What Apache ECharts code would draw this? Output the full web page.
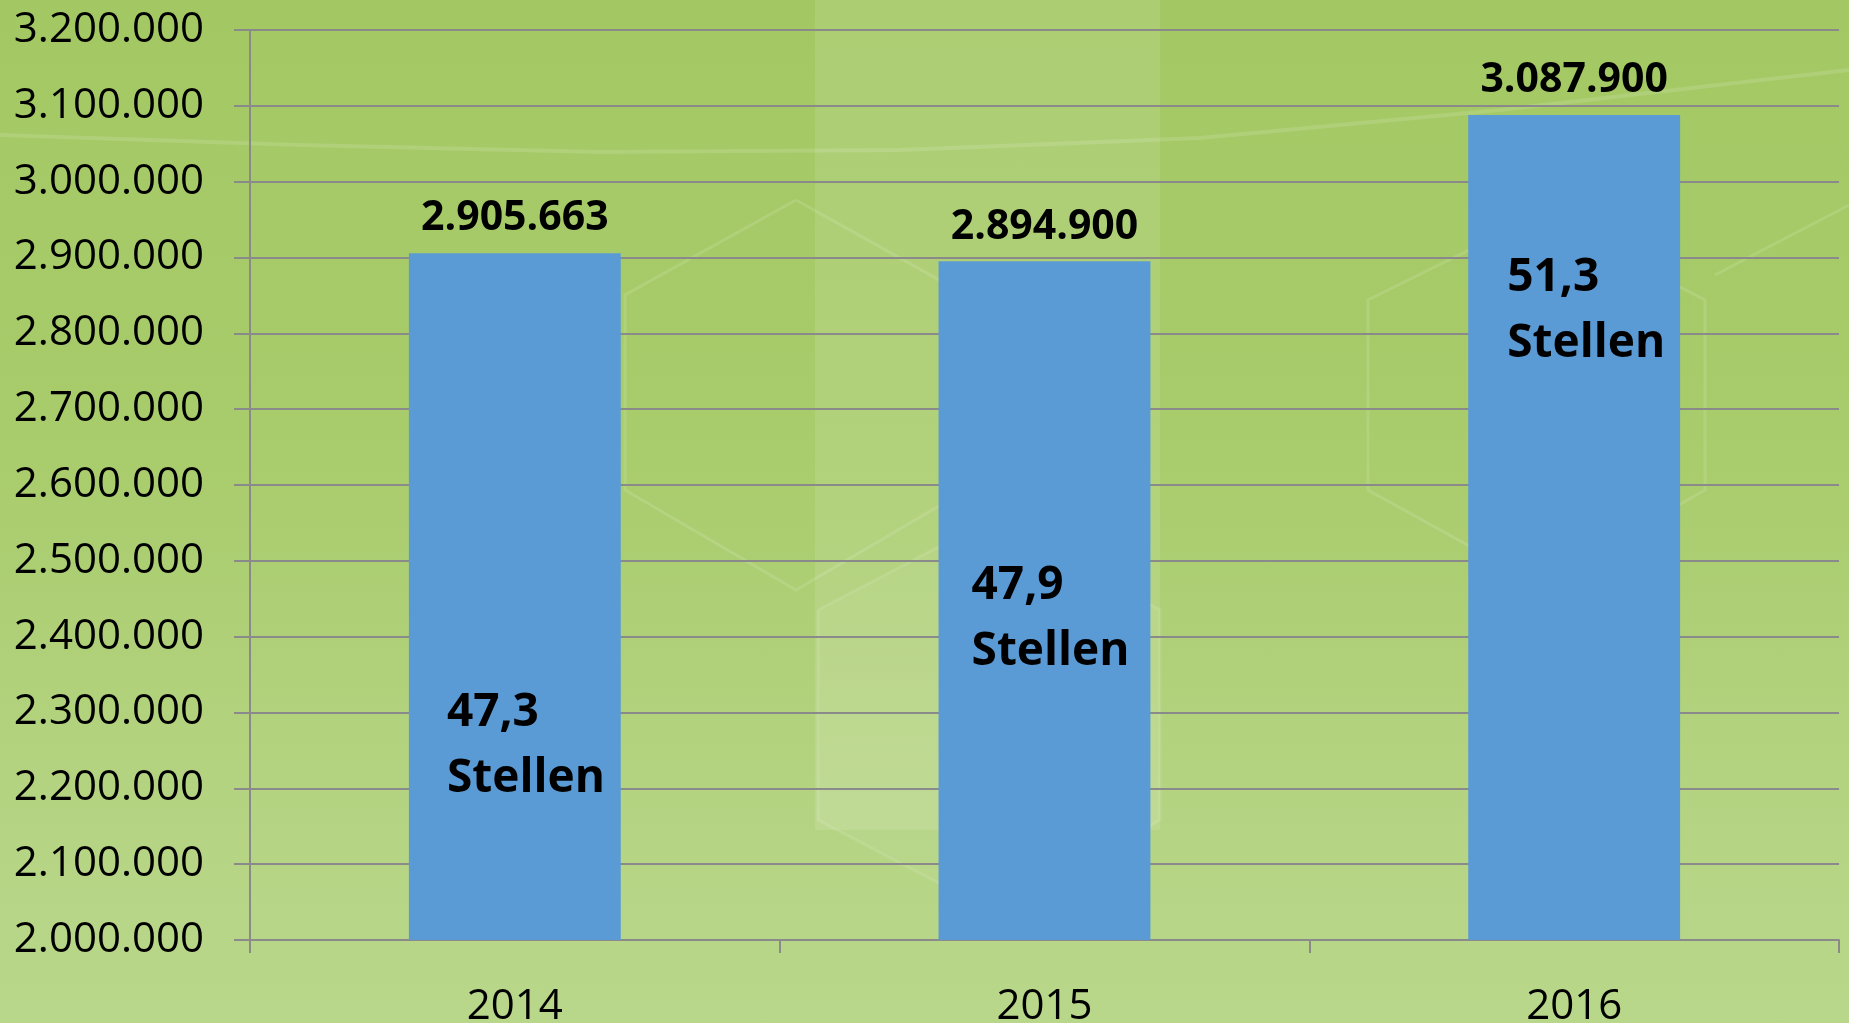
<!DOCTYPE html>
<html>
<head>
<meta charset="utf-8">
<style>
  html, body { margin: 0; padding: 0; width: 1849px; height: 1023px; overflow: hidden; }
  body { background: linear-gradient(180deg, #a3c863 0%, #a9cc6c 45%, #b5d483 80%, #b9d78a 100%); }
  #chart { width: 1849px; height: 1023px; }
</style>
<script src="https://cdn.jsdelivr.net/npm/echarts@6/dist/echarts.min.js"></script>
</head>
<body>
<div id="chart"></div>
<script>
// ---- data ----
const categories = ['2014', '2015', '2016'];
const values = [2905663, 2894900, 3087900];
const stellen = ['47,3', '47,9', '51,3'];
const yTickMin = 2000000;
const yTickMax = 3200000;
const yTickStep = 100000;

// ---- style ----
const FONT = '"Open Sans", "Noto Sans", sans-serif';
const GRID_GRAY = '#8a8a8a';
const BAR_BLUE = '#5b9bd5';
const innerLabelOffset = [[38, 427], [33, 292], [39, 130]];

function deNum(v) {
  return String(Math.round(v)).replace(/\B(?=(\d{3})+(?!\d))/g, '.');
}

const chart = echarts.init(document.getElementById('chart'), null, { renderer: 'canvas' });

const whiteLine = { stroke: 'rgba(255,255,255,0.12)', lineWidth: 3, fill: null };

const option = {
  backgroundColor: 'transparent',
  animation: false,
  graphic: [
    { type: 'rect', silent: true, z: -10, shape: { x: 815, y: 0, width: 345, height: 830 },
      style: { fill: 'rgba(255,255,255,0.10)' } },
    { type: 'polyline', silent: true, z: -9,
      shape: { points: [[0, 135], [300, 145], [600, 152], [900, 150], [1200, 138], [1500, 110], [1849, 70]] },
      style: { stroke: 'rgba(255,255,255,0.13)', lineWidth: 4, fill: null } },
    { type: 'polyline', silent: true, z: -9,
      shape: { points: [[796, 200], [966, 295], [966, 490], [796, 590], [625, 490], [625, 295], [796, 200]] },
      style: whiteLine },
    { type: 'polyline', silent: true, z: -9,
      shape: { points: [[1540, 215], [1705, 300], [1705, 490], [1540, 585], [1368, 490], [1368, 300], [1540, 215]] },
      style: whiteLine },
    { type: 'polyline', silent: true, z: -9,
      shape: { points: [[1715, 275], [1849, 205]] },
      style: whiteLine },
    { type: 'polyline', silent: true, z: -9,
      shape: { points: [[818, 610], [990, 520], [1160, 610], [1160, 820], [990, 910], [818, 820], [818, 610]] },
      style: { stroke: 'rgba(255,255,255,0.10)', lineWidth: 3, fill: 'rgba(255,255,255,0.05)' } }
  ],
  grid: { left: 250, right: 10, top: 30, bottom: 83, containLabel: false, outerBoundsMode: 'none' },
  xAxis: {
    type: 'category',
    data: categories,
    boundaryGap: true,
    axisLine: { show: true, lineStyle: { color: GRID_GRAY, width: 2 } },
    axisTick: { show: true, alignWithLabel: false, interval: 0, length: 13, lineStyle: { color: GRID_GRAY, width: 2 } },
    axisLabel: { color: '#000', fontFamily: FONT, fontSize: 42, margin: 46 },
    splitLine: { show: false }
  },
  yAxis: {
    type: 'value',
    min: yTickMin,
    max: yTickMax,
    interval: yTickStep,
    axisLine: { show: true, lineStyle: { color: GRID_GRAY, width: 2 } },
    axisTick: { show: true, length: 16, lineStyle: { color: GRID_GRAY, width: 2 } },
    axisLabel: { color: '#000', fontFamily: FONT, fontSize: 42, margin: 46, formatter: deNum },
    splitLine: { show: true, lineStyle: { color: GRID_GRAY, width: 2 } }
  },
  series: [
    {
      type: 'bar',
      data: values,
      barWidth: '40%',
      itemStyle: { color: BAR_BLUE },
      label: {
        show: true,
        position: 'top',
        distance: 14,
        color: '#000',
        fontFamily: FONT,
        fontWeight: 'bold',
        fontSize: 41,
        formatter: p => deNum(p.value)
      },
      z: 2
    },
    {
      type: 'bar',
      data: values.map((v, i) => ({
        value: v,
        label: { position: innerLabelOffset[i] }
      })),
      barWidth: '40%',
      barGap: '-100%',
      itemStyle: { color: 'rgba(0,0,0,0)' },
      label: {
        show: true,
        color: '#000',
        fontFamily: FONT,
        fontWeight: 'bold',
        fontSize: 46,
        lineHeight: 66,
        align: 'left',
        verticalAlign: 'top',
        formatter: p => stellen[p.dataIndex] + '\nStellen'
      },
      z: 3
    }
  ]
};

chart.setOption(option);
</script>
</body>
</html>
